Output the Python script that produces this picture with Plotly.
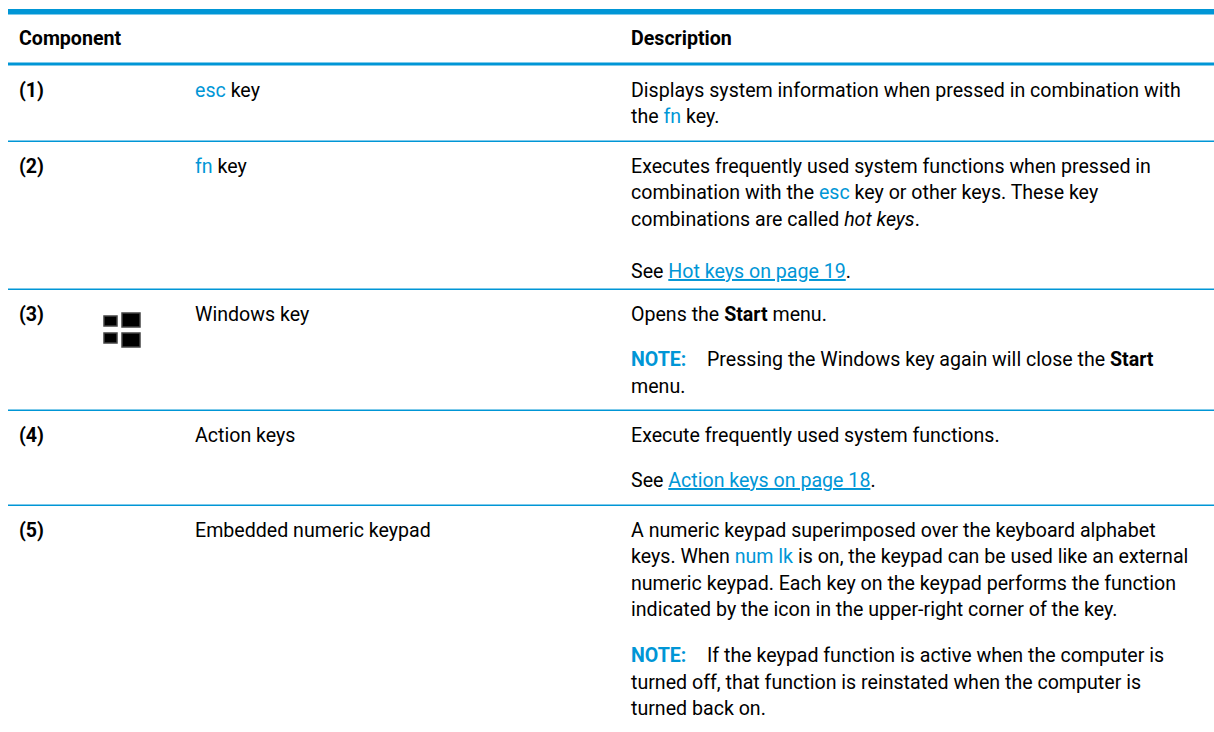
import plotly.graph_objects as go

W, H = 1214, 732
BLUE = "#0096D6"
FONT = "Roboto"
SIZE = 19.6


def blue(s):
    return f'<span style="color:{BLUE}">{s}</span>'


def link(s):
    return f'<span style="color:{BLUE}"><u>{s}</u></span>'


headers = ["Component", "Description"]
header_x = [19, 631]
header_y = 38

numbers = ["(1)", "(2)", "(3)", "(4)", "(5)"]
number_y = [90, 166, 314, 435, 530]

names = [blue("esc") + " key", blue("fn") + " key", "Windows key", "Action keys", "Embedded numeric keypad"]

description_lines = [
    "Displays system information when pressed in combination with",
    "the " + blue("fn") + " key.",
    "Executes frequently used system functions when pressed in",
    "combination with the " + blue("esc") + " key or other keys. These key",
    "combinations are called <i>hot keys</i>.",
    "See " + link("Hot keys on page 19") + ".",
    "Opens the <b>Start</b> menu.",
    "menu.",
    "Execute frequently used system functions.",
    "See " + link("Action keys on page 18") + ".",
    "A numeric keypad superimposed over the keyboard alphabet",
    "keys. When " + blue("num lk") + " is on, the keypad can be used like an external",
    "numeric keypad. Each key on the keypad performs the function",
    "indicated by the icon in the upper-right corner of the key.",
    "turned off, that function is reinstated when the computer is",
    "turned back on.",
]
description_y = [90, 116, 166, 192, 219, 271, 314, 386, 435, 480, 530, 556, 583, 609, 682, 708]

note_label = "NOTE:"
note_text = ["Pressing the Windows key again will close the <b>Start</b>",
             "If the keypad function is active when the computer is"]
note_y = [359, 655]

rules_y = [141, 289, 410, 505]

fig = go.Figure()
ann = []


def add(x, y, text, size=SIZE):
    ann.append(dict(x=x, y=y, text=text, xref="x", yref="y", showarrow=False, xanchor="left",
                    yanchor="middle", align="left", xshift=-2, font=dict(family=FONT, size=size, color="#000000")))


for x, t in zip(header_x, headers):
    add(x, header_y, f"<b>{t}</b>")
for y, t, name in zip(number_y, numbers, names):
    add(19, y, f"<b>{t}</b>")
    add(195, y, name)
for y, t in zip(description_y, description_lines):
    add(631, y, t)
for y, t in zip(note_y, note_text):
    add(631, y, f'<b><span style="color:{BLUE}">{note_label}</span></b>')
    add(707, y, t)

shapes = [
    dict(type="rect", x0=8, x1=W, y0=9, y1=14.5, fillcolor=BLUE, line_width=0),
    dict(type="rect", x0=8, x1=W, y0=62.5, y1=65.5, fillcolor=BLUE, line_width=0),
]
for y in rules_y:
    shapes.append(dict(type="rect", x0=8, x1=W, y0=y - 0.4, y1=y + 1, fillcolor=BLUE, line_width=0))

# Windows logo panes
for x0, x1, y0, y1 in [(104, 117, 316, 326), (122, 140, 313, 327), (104, 117, 333, 343), (122, 140, 333, 347)]:
    shapes.append(dict(type="rect", x0=x0, x1=x1, y0=y0, y1=y1, fillcolor="#000000", line=dict(width=1.5, color="#444444")))

fig.update_layout(
    width=W, height=H, margin=dict(l=0, r=0, t=0, b=0), autosize=False,
    paper_bgcolor="white", plot_bgcolor="white", showlegend=False,
    xaxis=dict(range=[0, W], visible=False, fixedrange=True),
    yaxis=dict(range=[H, 0], visible=False, fixedrange=True),
    annotations=ann, shapes=shapes,
)
fig.write_html("out.html", config={"displayModeBar": False},
               post_script="document.body.style.margin='0';document.body.style.overflow='hidden';")
